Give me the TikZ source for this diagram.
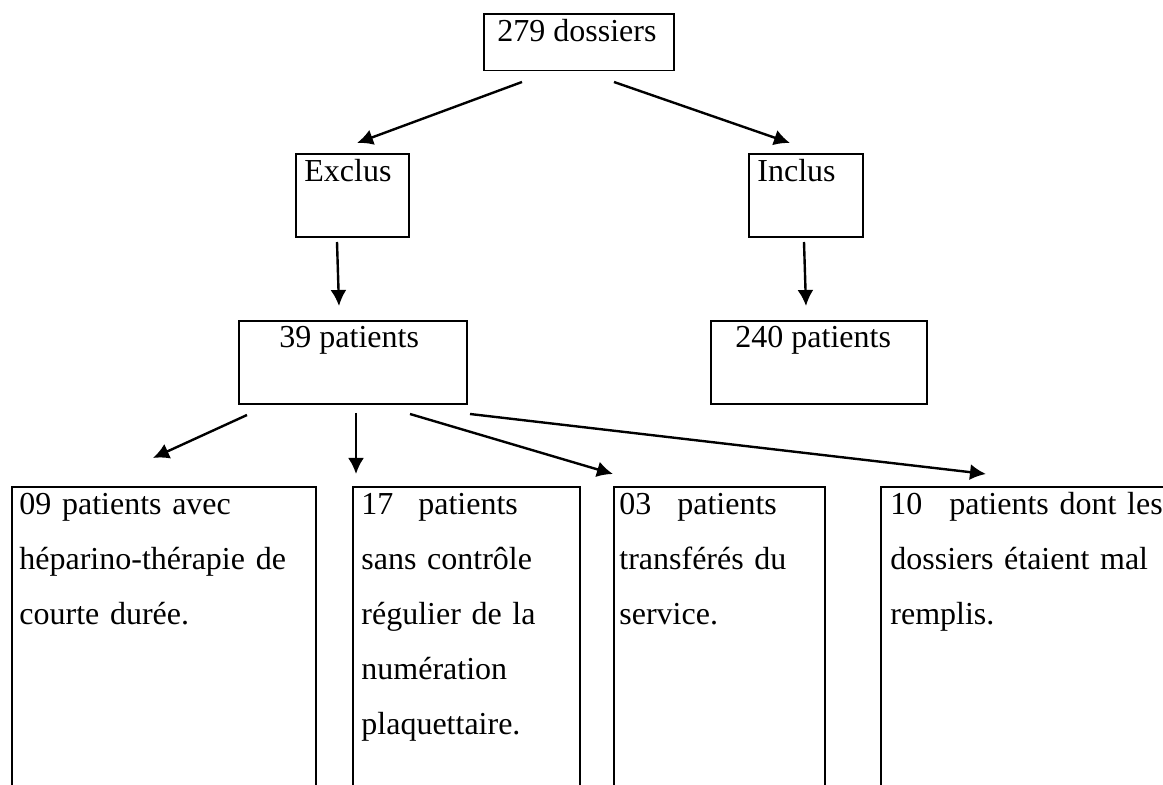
\documentclass[tikz,border=0pt]{standalone}
\usepackage{fontspec}
\setmainfont{Liberation Serif}
\usetikzlibrary{arrows.meta}

\begin{document}
\begin{tikzpicture}[x=0.5pt,y=-0.5pt]
\tikzset{edge/.style = {-{Latex[length=8pt,width=8pt]}, line width=1.2pt}}
\tikzset{box/.style = {draw, line width=0.9pt, inner sep=0pt, anchor=north west}}
\tikzset{txt/.style = {font=\fontsize{16}{27.5}\selectfont, inner sep=0pt, anchor=base west, align=left}}
\clip (0,0) rectangle (1163,785);
\node [box, minimum width=95pt, minimum height=28.3pt] at (483,13) (dos) {};
\node [box, minimum width=56.5pt, minimum height=41.5pt] at (295,153) (excl) {};
\node [box, minimum width=57pt, minimum height=41.5pt] at (748,153) (incl) {};
\node [box, minimum width=114pt, minimum height=41.5pt] at (238,320) (p39) {};
\node [box, minimum width=108pt, minimum height=41.5pt] at (710,320) (p240) {};
\node [box, minimum width=152pt, minimum height=160pt] at (11,486) (c1) {};
\node [box, minimum width=113.5pt, minimum height=160pt] at (352,486) (c2) {};
\node [box, minimum width=105.5pt, minimum height=160pt] at (613,486) (c3) {};
\node [box, minimum width=150pt, minimum height=160pt] at (880,486) (c4) {};
\node [txt] at (497,42) (tdos) {279 dossiers};
\node [txt] at (304,182) (texcl) {Exclus};
\node [txt] at (757,182) (tincl) {Inclus};
\node [txt] at (279,348) (tp39) {39 patients};
\node [txt] at (735,348) (tp240) {240 patients};
\node [txt, text width=150pt] at (19,515) (tc1) {09 patients avec\\h\'eparino-th\'erapie de\\courte dur\'ee.};
\node [txt, text width=110pt] at (361,515) (tc2) {17\hspace{12.5pt}patients\\sans contr\^ole\\r\'egulier de la\\num\'eration\\plaquettaire.};
\node [txt, text width=105pt] at (619,515) (tc3) {03\hspace{13pt}patients\\transf\'er\'es du\\service.};
\node [txt, text width=140pt] at (890,515) (tc4) {10\hspace{13.5pt}patients dont les\\dossiers \'etaient mal\\remplis.};
\coordinate (a1) at (522,82);
\coordinate (a2) at (357,143);
\coordinate (a3) at (614,82);
\coordinate (a4) at (790,143);
\coordinate (a5) at (337,242);
\coordinate (a6) at (339,306);
\coordinate (a7) at (804,242);
\coordinate (a8) at (806,306);
\coordinate (b0) at (247,415);
\coordinate (b1) at (153,458);
\coordinate (b2) at (356,413);
\coordinate (b3) at (356,474);
\coordinate (b4) at (410,414);
\coordinate (b5) at (613,474);
\coordinate (b6) at (470,414);
\coordinate (b7) at (986,474);
\draw [edge] (a1) -- (a2);
\draw [edge] (a3) -- (a4);
\draw [edge] (a5) -- (a6);
\draw [edge] (a7) -- (a8);
\draw [edge] (b0) -- (b1);
\draw [edge] (b2) -- (b3);
\draw [edge] (b4) -- (b5);
\draw [edge] (b6) -- (b7);
\end{tikzpicture}
\end{document}
